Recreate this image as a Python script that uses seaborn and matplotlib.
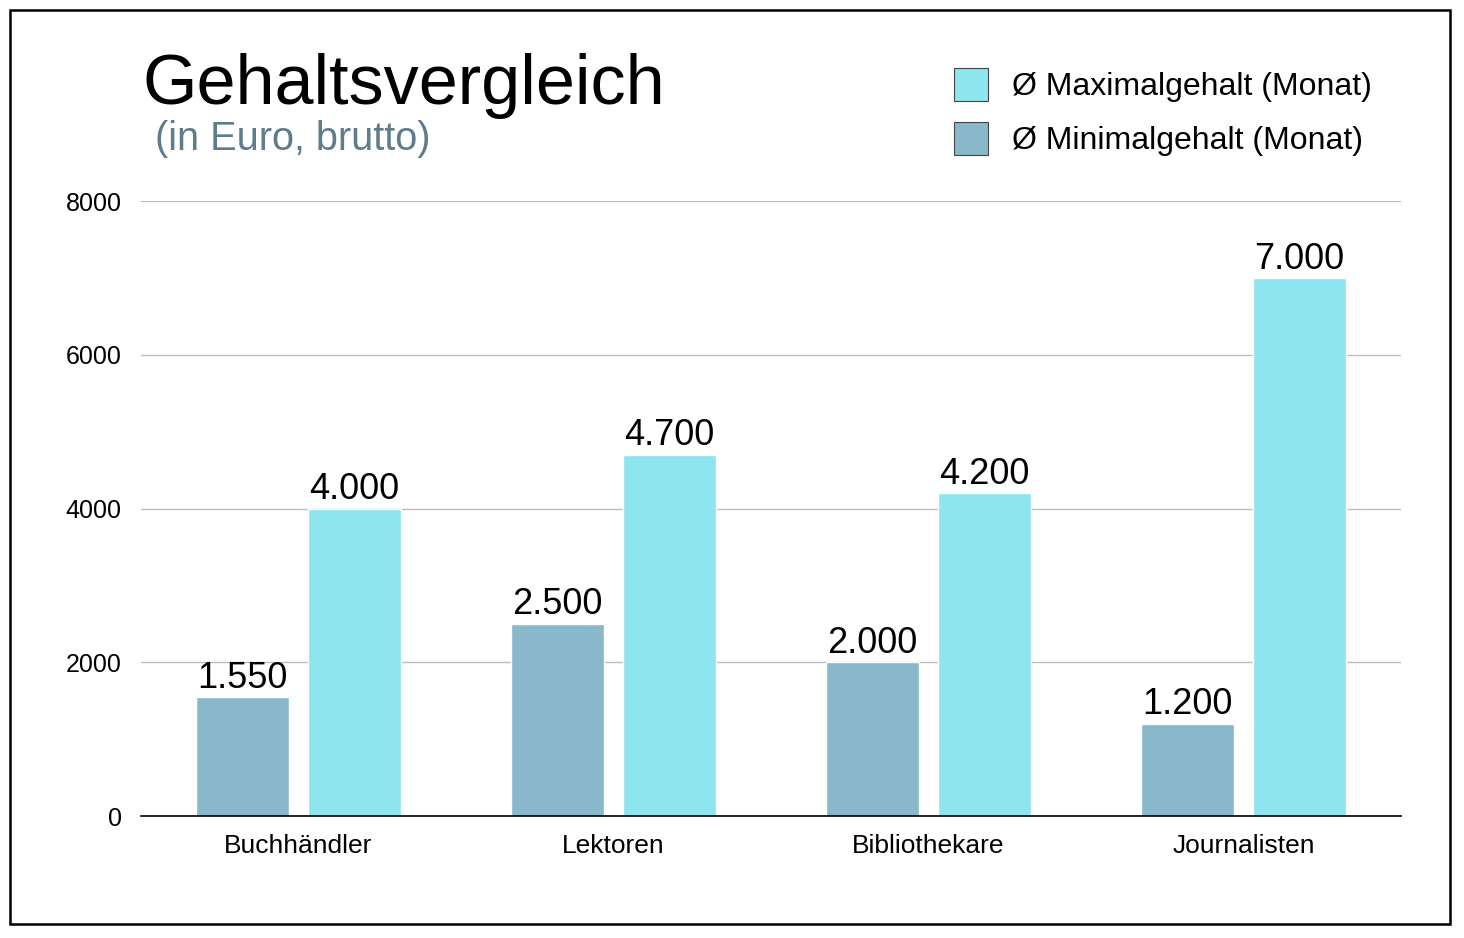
import pandas as pd
import matplotlib
matplotlib.use('Agg')
import matplotlib.pyplot as plt
import seaborn as sns
from matplotlib.patches import Patch, Rectangle

# data
berufe = ['Buchhändler', 'Lektoren', 'Bibliothekare', 'Journalisten']
minimal = [1550, 2500, 2000, 1200]
maximal = [4000, 4700, 4200, 7000]
serien = ['Ø Minimalgehalt (Monat)', 'Ø Maximalgehalt (Monat)']
y_ticks = [0, 2000, 4000, 6000, 8000]

FARBE_MIN = '#8ab8cb'
FARBE_MAX = '#8ee4ef'


def tausender(v):
    # German thousands separator
    return f'{int(round(v)):,}'.replace(',', '.')


def main():
    df = pd.DataFrame({
        'Beruf': berufe * 2,
        'Gehalt': minimal + maximal,
        'Serie': [serien[0]] * len(berufe) + [serien[1]] * len(berufe),
    })

    sns.set_style('white')
    plt.rcParams['font.family'] = ['Liberation Sans', 'DejaVu Sans']
    plt.rcParams['text.color'] = 'black'
    plt.rcParams['xtick.color'] = 'black'
    plt.rcParams['ytick.color'] = 'black'

    fig = plt.figure(figsize=(14.64, 9.38), dpi=100)
    ax = fig.add_axes([0.0963, 0.130, 0.8607, 0.6557])

    sns.barplot(data=df, x='Beruf', y='Gehalt', hue='Serie', hue_order=serien,
                palette=[FARBE_MIN, FARBE_MAX], width=0.71, gap=0.17,
                saturation=1, legend=False, ax=ax)

    for cont in ax.containers:
        ax.bar_label(cont, labels=[tausender(b.get_height()) for b in cont],
                     padding=1, fontsize=26, color='black')

    ax.set_xlim(-0.5, 3.5)
    ax.set_ylim(0, 8000)
    ax.set_yticks(y_ticks)
    ax.set_yticklabels([str(t) for t in y_ticks])
    ax.yaxis.grid(True, color='#bdbdbd', linewidth=1)
    ax.set_axisbelow(True)
    ax.tick_params(axis='y', length=0, pad=14, labelsize=18, labelcolor='black')
    ax.tick_params(axis='x', length=0, pad=13, labelsize=19, labelcolor='black')
    ax.set_xlabel('')
    ax.set_ylabel('')
    sns.despine(ax=ax, left=True, top=True, right=True)
    ax.spines['bottom'].set_color('black')
    ax.spines['bottom'].set_linewidth(1.2)

    # titles
    fig.text(0.097, 0.889, 'Gehaltsvergleich', fontsize=50.5, color='black',
             ha='left', va='baseline')
    fig.text(0.106, 0.840, '(in Euro, brutto)', fontsize=28.5, color='#5e7c8a',
             ha='left', va='baseline')

    # legend, max first
    handles = [Patch(facecolor=FARBE_MAX, edgecolor='#444444', linewidth=0.8),
               Patch(facecolor=FARBE_MIN, edgecolor='#444444', linewidth=0.8)]
    fig.legend(handles, [serien[1], serien[0]], loc='upper left',
               bbox_to_anchor=(0.643, 0.941), frameon=False, fontsize=23,
               handlelength=1.05, handleheight=1.2, handletextpad=0.75,
               labelspacing=0.62, borderaxespad=0, labelcolor='black')

    # outer frame
    fig.patches.append(Rectangle((0.0068, 0.0149), 0.9836, 0.9744,
                                 transform=fig.transFigure, fill=False,
                                 edgecolor='black', linewidth=1.8))

    fig.savefig('out.png', dpi=100, facecolor='white')


if __name__ == '__main__':
    main()
